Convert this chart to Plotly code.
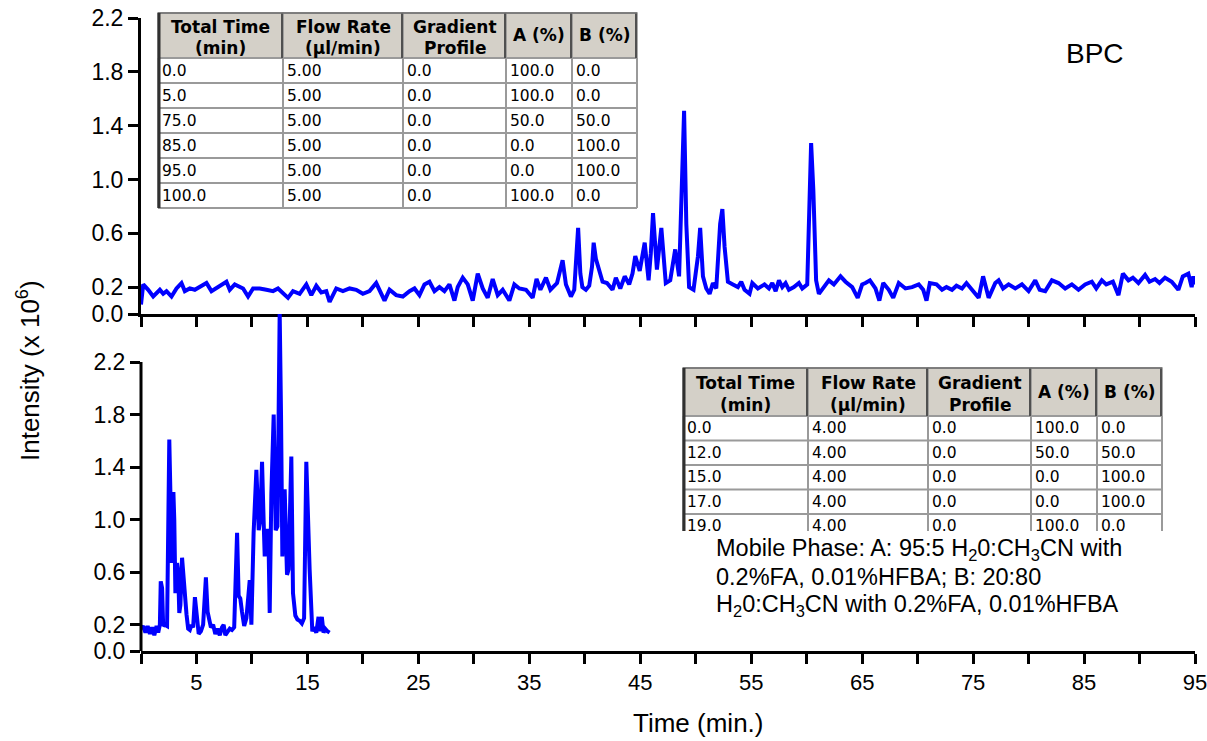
import plotly.graph_objects as go

# ---------------- data ----------------
# Top chromatogram (BPC, 100 min gradient)
top_t_early = [0.0, 0.2, 0.65, 1.1, 1.7, 2.0, 2.3, 2.75, 3.2, 3.65,
               3.95, 4.4, 4.85, 5.3, 5.9, 6.35, 6.95, 7.7, 8.0, 8.45,
               9.2, 9.65, 10.1, 10.7, 11.3, 11.9, 12.35, 12.8, 13.25, 13.7,
               14.3, 14.9, 15.35, 15.8, 16.25, 16.7, 17.0, 17.6, 18.2, 18.8,
               19.4, 20.0, 20.6, 21.2, 21.65, 21.95, 22.4, 23.0, 23.6, 24.2,
               24.65, 25.1, 25.55, 26.0, 26.45, 26.9, 27.35, 27.8, 28.25, 28.55,
               29.0, 29.45, 29.9, 30.35, 30.8, 31.25, 31.7, 32.15, 32.6, 33.2,
               33.65, 34.1, 34.7, 35.3, 35.65, 36.0, 36.5, 36.9, 37.5, 38.0,
               38.3, 38.75, 39.05]
top_i_early = [0.07, 0.22, 0.18, 0.13, 0.18, 0.15, 0.17, 0.13, 0.19, 0.23,
               0.17, 0.19, 0.18, 0.20, 0.23, 0.17, 0.20, 0.24, 0.18, 0.22,
               0.19, 0.13, 0.19, 0.19, 0.18, 0.17, 0.19, 0.15, 0.12, 0.17,
               0.15, 0.22, 0.14, 0.21, 0.16, 0.17, 0.09, 0.19, 0.17, 0.19,
               0.18, 0.15, 0.17, 0.23, 0.15, 0.10, 0.18, 0.14, 0.13, 0.17,
               0.19, 0.14, 0.22, 0.24, 0.17, 0.20, 0.17, 0.22, 0.10, 0.20,
               0.27, 0.22, 0.10, 0.30, 0.19, 0.12, 0.26, 0.14, 0.18, 0.10,
               0.22, 0.19, 0.18, 0.12, 0.26, 0.18, 0.27, 0.18, 0.23, 0.40,
               0.22, 0.13, 0.18]

top_t_peaks = [39.2, 39.4, 39.6, 39.78, 40.1, 40.4, 40.65, 40.8, 41.0, 41.3,
               41.6, 42.0, 42.5, 42.8, 43.2, 43.6, 44.0, 44.3, 44.55, 44.95,
               45.4, 45.75, 45.95, 46.15, 46.5, 46.9, 47.3, 47.7, 48.15, 48.5,
               48.75, 48.95, 49.15, 49.4, 49.8, 50.2, 50.4, 50.65, 50.95, 51.25,
               51.55, 51.85, 52.2, 52.4, 52.6, 52.9, 53.35, 53.8, 54.1, 54.4,
               54.85, 55.1, 55.6, 56.2, 56.6, 56.9, 57.2, 57.5, 57.8, 58.1,
               58.4, 58.85, 59.3, 59.6, 60.05, 60.25, 60.4, 60.6, 60.85, 61.1,
               61.5, 62.0, 62.45, 63.05, 63.5, 64.1, 64.6, 65.0]
top_i_peaks = [0.35, 0.64, 0.30, 0.20, 0.18, 0.21, 0.35, 0.53, 0.41, 0.32,
               0.24, 0.23, 0.18, 0.27, 0.19, 0.28, 0.22, 0.30, 0.43, 0.32,
               0.53, 0.25, 0.45, 0.75, 0.33, 0.64, 0.23, 0.25, 0.48, 0.28,
               0.92, 1.51, 0.67, 0.20, 0.18, 0.43, 0.64, 0.28, 0.19, 0.15,
               0.23, 0.19, 0.67, 0.78, 0.50, 0.24, 0.22, 0.20, 0.24, 0.18,
               0.15, 0.23, 0.19, 0.22, 0.19, 0.23, 0.17, 0.25, 0.20, 0.23,
               0.18, 0.20, 0.23, 0.19, 0.22, 0.92, 1.27, 0.92, 0.25, 0.15,
               0.19, 0.25, 0.22, 0.28, 0.24, 0.20, 0.12, 0.22]

top_t_late = [65.3, 65.7, 66.2, 66.55, 66.9, 67.4, 67.8, 68.3, 68.9, 69.5,
              70.1, 70.5, 70.8, 71.1, 71.7, 72.2, 72.6, 73.1, 73.5, 74.0,
              74.4, 74.9, 75.5, 75.9, 76.4, 77.0, 77.3, 77.7, 78.2, 78.8,
              79.4, 80.0, 80.6, 81.0, 81.5, 82.1, 82.7, 83.3, 83.9, 84.5,
              85.1, 85.7, 86.1, 86.6, 87.0, 87.6, 88.1, 88.5, 89.0, 89.4,
              89.9, 90.5, 90.9, 91.4, 91.8, 92.3, 92.9, 93.5, 93.9, 94.4,
              94.7, 94.85, 95.0]
top_i_late = [0.23, 0.25, 0.19, 0.10, 0.23, 0.18, 0.12, 0.23, 0.19, 0.20,
              0.22, 0.18, 0.10, 0.23, 0.22, 0.18, 0.20, 0.18, 0.21, 0.19,
              0.23, 0.18, 0.12, 0.28, 0.12, 0.23, 0.25, 0.19, 0.22, 0.19,
              0.22, 0.17, 0.25, 0.18, 0.17, 0.25, 0.23, 0.19, 0.22, 0.18,
              0.22, 0.24, 0.19, 0.25, 0.22, 0.24, 0.14, 0.30, 0.25, 0.27,
              0.23, 0.29, 0.24, 0.26, 0.23, 0.27, 0.24, 0.18, 0.28, 0.30,
              0.20, 0.28, 0.22]

# Bottom chromatogram (19 min gradient)
bot_t = [0.0, 0.2, 0.4, 0.6, 0.8, 1.0, 1.2, 1.4, 1.55, 1.7,
         1.78, 1.9, 2.0, 2.15, 2.35, 2.45, 2.55, 2.65, 2.72, 2.8,
         2.92, 3.0, 3.1, 3.25, 3.35, 3.45, 3.55, 3.7, 3.8, 3.95,
         4.1, 4.25, 4.4, 4.55, 4.7, 4.86, 5.0, 5.1, 5.2, 5.4,
         5.6, 5.85, 6.0, 6.15, 6.3, 6.5, 6.7, 6.9, 7.1, 7.3,
         7.45, 7.6, 7.8, 8.0, 8.2, 8.4, 8.55, 8.66, 8.8, 8.95,
         9.1, 9.3, 9.5, 9.65, 9.8, 9.95, 10.15, 10.4, 10.61, 10.75,
         10.91, 11.05, 11.15, 11.36, 11.5, 11.6, 11.75, 11.96, 12.14, 12.3,
         12.5, 12.62, 12.74, 12.95, 13.16, 13.3, 13.55, 13.7, 13.91, 14.1,
         14.3, 14.5, 14.7, 14.9, 15.05, 15.2, 15.44, 15.6, 15.8, 16.0,
         16.1, 16.3, 16.45, 16.6, 16.8, 17.0]
bot_i = [0.17, 0.19, 0.14, 0.19, 0.13, 0.18, 0.12, 0.19, 0.14, 0.20,
         0.53, 0.48, 0.19, 0.20, 0.19, 0.90, 1.61, 1.20, 0.67, 0.90,
         1.21, 1.00, 0.44, 0.67, 0.60, 0.29, 0.35, 0.71, 0.60, 0.39,
         0.28, 0.17, 0.16, 0.20, 0.18, 0.41, 0.30, 0.27, 0.13, 0.15,
         0.20, 0.56, 0.30, 0.24, 0.18, 0.20, 0.13, 0.17, 0.12, 0.18,
         0.20, 0.12, 0.15, 0.17, 0.16, 0.18, 0.60, 0.90, 0.42, 0.40,
         0.30, 0.19, 0.25, 0.45, 0.54, 0.20, 0.90, 1.38, 0.92, 1.00,
         1.44, 1.00, 0.72, 0.93, 0.80, 0.29, 1.20, 1.80, 0.92, 0.95,
         2.58, 1.80, 0.72, 1.23, 0.58, 0.62, 1.48, 0.44, 0.27, 0.24,
         0.23, 0.21, 0.25, 1.44, 0.95, 0.62, 0.15, 0.18, 0.14, 0.26,
         0.15, 0.26, 0.14, 0.17, 0.15, 0.14]

# Axis ticks
x_tickvals = [5, 15, 25, 35, 45, 55, 65, 75, 85, 95]
x_ticktext = ["5", "15", "25", "35", "45", "55", "65", "75", "85", "95"]
y_tickvals = [0.0, 0.2, 0.6, 1.0, 1.4, 1.8, 2.2]
y_ticktext = ["0.0", "0.2", "0.6", "1.0", "1.4", "1.8", "2.2"]

# Gradient tables
tbl_header_lines = [["Total Time", "(min)"], ["Flow Rate", "(µl/min)"],
                    ["Gradient", "Profile"], ["A (%)"], ["B (%)"]]
top_tbl_time = ["0.0", "5.0", "75.0", "85.0", "95.0", "100.0"]
top_tbl_flow = ["5.00", "5.00", "5.00", "5.00", "5.00", "5.00"]
top_tbl_grad = ["0.0", "0.0", "0.0", "0.0", "0.0", "0.0"]
top_tbl_a = ["100.0", "100.0", "50.0", "0.0", "0.0", "100.0"]
top_tbl_b = ["0.0", "0.0", "50.0", "100.0", "100.0", "0.0"]

bot_tbl_time = ["0.0", "12.0", "15.0", "17.0", "19.0"]
bot_tbl_flow = ["4.00", "4.00", "4.00", "4.00", "4.00"]
bot_tbl_grad = ["0.0", "0.0", "0.0", "0.0", "0.0"]
bot_tbl_a = ["100.0", "50.0", "0.0", "0.0", "100.0"]
bot_tbl_b = ["0.0", "50.0", "100.0", "100.0", "0.0"]

mobile_phase_lines = [
    "Mobile Phase: A: 95:5 H<sub>2</sub>0:CH<sub>3</sub>CN with",
    "0.2%FA, 0.01%HFBA; B: 20:80",
    "H<sub>2</sub>0:CH<sub>3</sub>CN with 0.2%FA, 0.01%HFBA",
]

# ---------------- layout helpers ----------------
W, H = 1207, 741
ML, MR, MT, MB = 141, 12, 12, 90
PW, PH = W - ML - MR, H - MT - MB


def fx(px):
    return (px - ML) / PW


def fy(py):
    return (H - MB - py) / PH


FONT = "Arial, Liberation Sans, sans-serif"
TFONT = "DejaVu Sans, Verdana, sans-serif"
BLUE = "#0000FF"
COL_W = [125, 120, 103, 66, 65]

fig = go.Figure()

fig.add_trace(go.Scatter(x=top_t_early + top_t_peaks + top_t_late,
                         y=top_i_early + top_i_peaks + top_i_late,
                         mode="lines", line=dict(color=BLUE, width=4),
                         xaxis="x", yaxis="y", showlegend=False, hoverinfo="skip"))
fig.add_trace(go.Scatter(x=bot_t, y=bot_i, mode="lines",
                         line=dict(color=BLUE, width=4),
                         xaxis="x2", yaxis="y2", showlegend=False, hoverinfo="skip"))

shapes = []
annotations = []


def add_table(cols, x_left, y_top, header_h, row_h, cut_bottom=None):
    edges = [x_left]
    for w in COL_W:
        edges.append(edges[-1] + w)
    n_rows = len(cols[0])
    y_head_bot = y_top + header_h
    full_bottom = y_head_bot + n_rows * row_h
    bottom = cut_bottom if cut_bottom is not None else full_bottom

    def pline(x0, y0, x1, y1, color, width):
        shapes.append(dict(type="line", xref="paper", yref="paper",
                           x0=fx(x0), y0=fy(y0), x1=fx(x1), y1=fy(y1),
                           line=dict(color=color, width=width)))

    # body background
    shapes.append(dict(type="rect", xref="paper", yref="paper",
                       x0=fx(edges[0]), x1=fx(edges[-1]), y0=fy(bottom), y1=fy(y_head_bot),
                       fillcolor="white", line=dict(width=0), layer="above"))
    # header cells
    for i in range(len(COL_W)):
        shapes.append(dict(type="rect", xref="paper", yref="paper",
                           x0=fx(edges[i]), x1=fx(edges[i + 1]),
                           y0=fy(y_head_bot), y1=fy(y_top),
                           fillcolor="#D4D0C8", line=dict(color="#909090", width=1.5),
                           layer="above"))
    # horizontal grid lines in body
    for r in range(1, n_rows + 1):
        yy = y_head_bot + r * row_h
        if yy <= bottom:
            pline(edges[0], yy, edges[-1], yy, "#9A9A9A", 2)
    pline(edges[0], y_head_bot, edges[-1], y_head_bot, "#9A9A9A", 2)
    # vertical lines
    for i, xx in enumerate(edges):
        pline(xx, y_head_bot, xx, bottom, "#9A9A9A", 2)
        if i > 0:
            pline(xx - 1, y_top, xx - 1, y_head_bot, "#505050", 2)
    pline(edges[0], y_top, edges[-1], y_top, "#707070", 1.5)
    pline(edges[0] + 1, y_top, edges[0] + 1, bottom, "#303030", 3)

    # header text
    for i, lines in enumerate(tbl_header_lines):
        cx = (edges[i] + edges[i + 1]) / 2
        if len(lines) == 2:
            ys = [y_top + header_h * 0.31, y_top + header_h * 0.77]
        else:
            ys = [y_top + header_h * 0.5]
        for txt, yy in zip(lines, ys):
            annotations.append(dict(text="<b>" + txt + "</b>", xref="paper", yref="paper",
                                    x=fx(cx), y=fy(yy), showarrow=False,
                                    xanchor="center", yanchor="middle",
                                    font=dict(family=TFONT, size=17, color="black")))
    # cell text
    for c, col in enumerate(cols):
        for r, val in enumerate(col):
            yy = y_head_bot + r * row_h + row_h / 2
            annotations.append(dict(text=val, xref="paper", yref="paper",
                                    x=fx(edges[c] + 3), y=fy(yy), showarrow=False,
                                    xanchor="left", yanchor="middle", borderpad=0,
                                    font=dict(family=TFONT, size=15.5, color="black")))


add_table([top_tbl_time, top_tbl_flow, top_tbl_grad, top_tbl_a, top_tbl_b],
          158, 13, 45, 25)
add_table([bot_tbl_time, bot_tbl_flow, bot_tbl_grad, bot_tbl_a, bot_tbl_b],
          683, 368, 48, 24.5, cut_bottom=531)

# axis line of bottom panel (only up to 2.2)
shapes.append(dict(type="line", xref="paper", yref="y2", x0=0, x1=0, y0=0, y1=2.2,
                   line=dict(color="black", width=3)))

annotations += [
    dict(text="BPC", xref="paper", yref="paper", x=fx(1095), y=fy(54),
         showarrow=False, font=dict(family=FONT, size=28, color="black"),
         xanchor="center", yanchor="middle"),
    dict(text="Time (min.)", xref="paper", yref="paper", x=fx(698), y=fy(723),
         showarrow=False, font=dict(family=FONT, size=26, color="black"),
         xanchor="center", yanchor="middle"),
    dict(text="Intensity (x 10<sup>6</sup>)", xref="paper", yref="paper",
         x=fx(28), y=fy(371), textangle=-90, showarrow=False,
         font=dict(family=FONT, size=26, color="black"),
         xanchor="center", yanchor="middle"),
]
for k, line in enumerate(mobile_phase_lines):
    annotations.append(dict(text=line, xref="paper", yref="paper",
                            x=fx(714), y=fy(549 + 28 * k), align="left",
                            showarrow=False, font=dict(family=FONT, size=23.5, color="black"),
                            xanchor="left", yanchor="middle"))

top_dom = [fy(314), fy(18)]
bot_top_px = 314
bot_range_max = 2.2 * (H - MB - bot_top_px) / (H - MB - 362)

x_common = dict(showgrid=False, zeroline=False, color="black", range=[0, 95],
                automargin=False,
                tickmode="array", tickvals=x_tickvals, ticktext=x_ticktext,
                ticks="outside", ticklen=10, tickwidth=3, tickcolor="black",
                minor=dict(ticks="outside", ticklen=10, tickwidth=3, tickcolor="black",
                           tick0=0, dtick=5),
                showline=True, linewidth=3, linecolor="black",
                ticklabeloverflow="allow",
                tickfont=dict(family=FONT, size=22, color="black"))
y_common = dict(showgrid=False, zeroline=False, color="black", automargin=False,
                tickmode="array", tickvals=y_tickvals, ticktext=y_ticktext,
                ticks="outside", ticklen=10, tickwidth=3, tickcolor="black",
                tickfont=dict(family=FONT, size=23, color="black"))

fig.update_layout(
    width=W, height=H,
    margin=dict(l=ML, r=MR, t=MT, b=MB, pad=0, autoexpand=False),
    paper_bgcolor="white", plot_bgcolor="rgba(0,0,0,0)",
    font=dict(family=FONT, color="black"),
    xaxis=dict(domain=[0, 1], anchor="y", showticklabels=False, **x_common),
    yaxis=dict(domain=top_dom, anchor="x", range=[0, 2.2],
               showline=True, linewidth=3, linecolor="black", **y_common),
    xaxis2=dict(domain=[0, 1], anchor="y2", **x_common),
    yaxis2=dict(domain=[0, fy(bot_top_px)], anchor="x2", range=[0, bot_range_max],
                showline=False, **y_common),
    shapes=shapes,
    annotations=annotations,
)

fig.write_html("out.html")
